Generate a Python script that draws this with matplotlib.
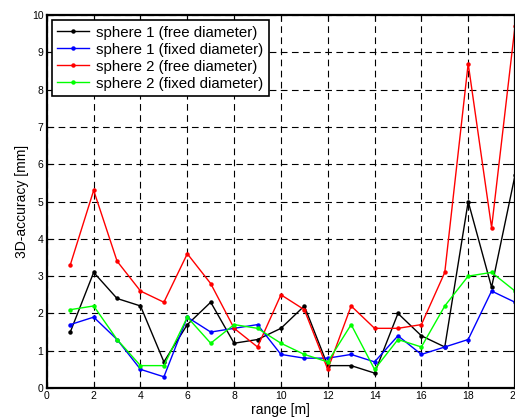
import matplotlib.pyplot as plt

plt.rcParams['font.family'] = ['Liberation Sans', 'DejaVu Sans']

rng = list(range(1, 21))
s1_free = [1.5, 3.1, 2.4, 2.2, 0.7, 1.7, 2.3, 1.2, 1.3, 1.6,
           2.2, 0.6, 0.6, 0.4, 2.0, 1.4, 1.1, 5.0, 2.7, 5.7]
s1_fixed = [1.7, 1.9, 1.3, 0.5, 0.3, 1.9, 1.5, 1.6, 1.7, 0.9,
            0.8, 0.8, 0.9, 0.7, 1.4, 0.9, 1.1, 1.3, 2.6, 2.3]
s2_free = [3.3, 5.3, 3.4, 2.6, 2.3, 3.6, 2.8, 1.6, 1.1, 2.5,
           2.1, 0.5, 2.2, 1.6, 1.6, 1.7, 3.1, 8.7, 4.3, 9.7]
s2_fixed = [2.1, 2.2, 1.3, 0.6, 0.6, 1.9, 1.2, 1.7, 1.6, 1.2,
            0.9, 0.7, 1.7, 0.5, 1.3, 1.1, 2.2, 3.0, 3.1, 2.6]

series = [
    ("sphere 1 (free diameter)", s1_free, "black"),
    ("sphere 1 (fixed diameter)", s1_fixed, "blue"),
    ("sphere 2 (free diameter)", s2_free, "red"),
    ("sphere 2 (fixed diameter)", s2_fixed, "#00ff00"),
]

fig = plt.figure(figsize=(5.15, 4.19), dpi=100)
ax = fig.add_axes([0.091, 0.074, 0.909, 0.89])

for label, vals, col in series:
    ax.plot(rng, vals, color=col, lw=1, marker='o', ms=2.2, label=label)

ax.set_xlim(0, 20)
ax.set_ylim(0, 10)
ax.set_xticks(range(0, 21, 2))
ax.set_yticks(range(0, 11))
ax.tick_params(direction='in', labelsize=7.5, length=4, top=True, right=True, pad=2.5)
ax.grid(True, color='black', linestyle=(0, (6, 4)), linewidth=0.8)
for sp in ax.spines.values():
    sp.set_linewidth(1.6)

ax.set_xlabel("range [m]", fontsize=10, labelpad=1)
ax.set_ylabel("3D-accuracy [mm]", fontsize=10, labelpad=2)

leg = ax.legend(loc='upper left', fontsize=10.8, fancybox=False, framealpha=1,
                edgecolor='black', handlelength=2.1, handletextpad=0.5,
                borderaxespad=0.35, labelspacing=0.2, borderpad=0.35)
leg.get_frame().set_linewidth(1.2)

fig.savefig("out.png", dpi=100)
